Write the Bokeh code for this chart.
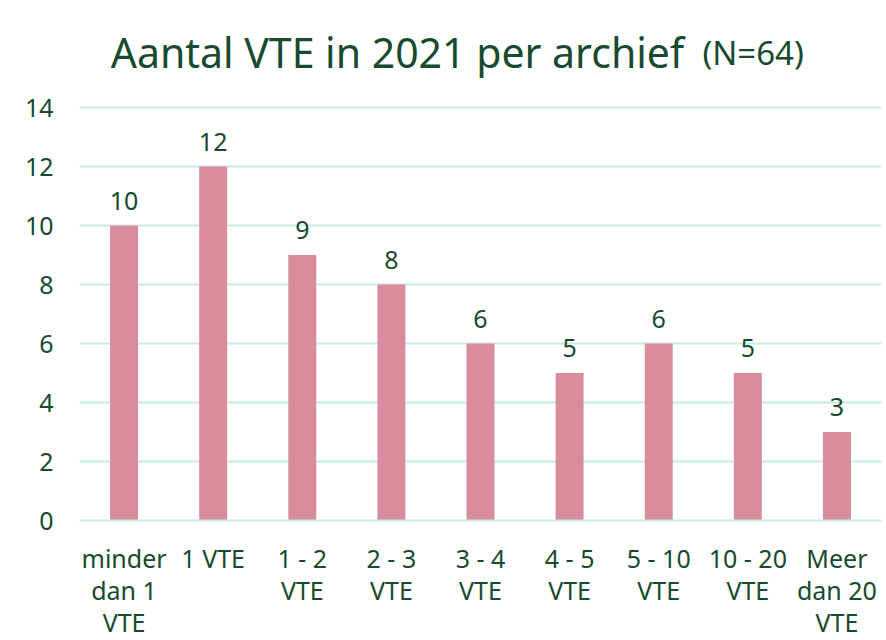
from bokeh.plotting import figure
from bokeh.models import ColumnDataSource, FactorRange, Range1d, LabelSet, Label, FixedTicker
from bokeh.core.properties import value
from bokeh.embed import file_html
from bokeh.resources import INLINE

categories = ["minder\ndan 1\nVTE", "1 VTE", "1 - 2\nVTE", "2 - 3\nVTE", "3 - 4\nVTE",
              "4 - 5\nVTE", "5 - 10\nVTE", "10 - 20\nVTE", "Meer\ndan 20\nVTE"]
counts = [10, 12, 9, 8, 6, 5, 6, 5, 3]
y_ticks = [0, 2, 4, 6, 8, 10, 12, 14]
title_main = "Aantal VTE in 2021 per archief"
title_n = "(N=64)"

FONT = "Noto Sans"
TXT = "#184a2f"
BAR = "#d98c9e"
GRID = "#c9ecdf"

source = ColumnDataSource(dict(cat=categories, val=counts, lab=[str(v) for v in counts]))

# frame spans from near the top of the figure down to the zero line; ticks stop at 14
p = figure(frame_width=802, frame_height=512,
           x_range=FactorRange(factors=categories, range_padding=0),
           y_range=Range1d(0, 14 * 512 / 413), output_backend="svg", toolbar_location=None,
           min_border_left=79, min_border_right=5, min_border_top=8, min_border_bottom=112)
p.outline_line_color = None
p.background_fill_color = "white"
p.border_fill_color = "white"

p.vbar(x="cat", top="val", width=0.314, source=source, fill_color=BAR, line_color=None)

labels = LabelSet(x="cat", y="val", text="lab", source=source, text_align="center",
                  text_baseline="alphabetic", y_offset=16, text_font=value(FONT),
                  text_font_size="25px", text_color=TXT)
p.add_layout(labels)

p.yaxis.ticker = FixedTicker(ticks=y_ticks)
p.yaxis.axis_line_color = None
p.yaxis.major_tick_line_color = None
p.yaxis.minor_tick_line_color = None
p.yaxis.major_label_text_font = FONT
p.yaxis.major_label_text_font_size = "25px"
p.yaxis.major_label_text_color = TXT
p.yaxis.major_label_standoff = 20

p.xaxis.axis_line_color = GRID
p.xaxis.axis_line_width = 2
p.xaxis.major_tick_line_color = None
p.xaxis.minor_tick_line_color = None
p.xaxis.major_label_text_font = FONT
p.xaxis.major_label_text_font_size = "25px"
p.xaxis.major_label_text_color = TXT
p.xaxis.major_label_standoff = 14
p.xaxis.major_label_text_line_height = 0.95

p.xgrid.grid_line_color = None
p.ygrid.ticker = FixedTicker(ticks=y_ticks)
p.ygrid.grid_line_color = GRID
p.ygrid.grid_line_width = 2

p.add_layout(Label(x=0.35, y=15.87, text=title_main, text_font=FONT, text_font_size="41px",
                   text_color=TXT, text_baseline="alphabetic", text_align="left"))
p.add_layout(Label(x=6.99, y=15.87, text=title_n, text_font=FONT, text_font_size="33px",
                   text_color=TXT, text_baseline="alphabetic", text_align="left"))

open("out.html", "w").write(file_html(p, INLINE))
